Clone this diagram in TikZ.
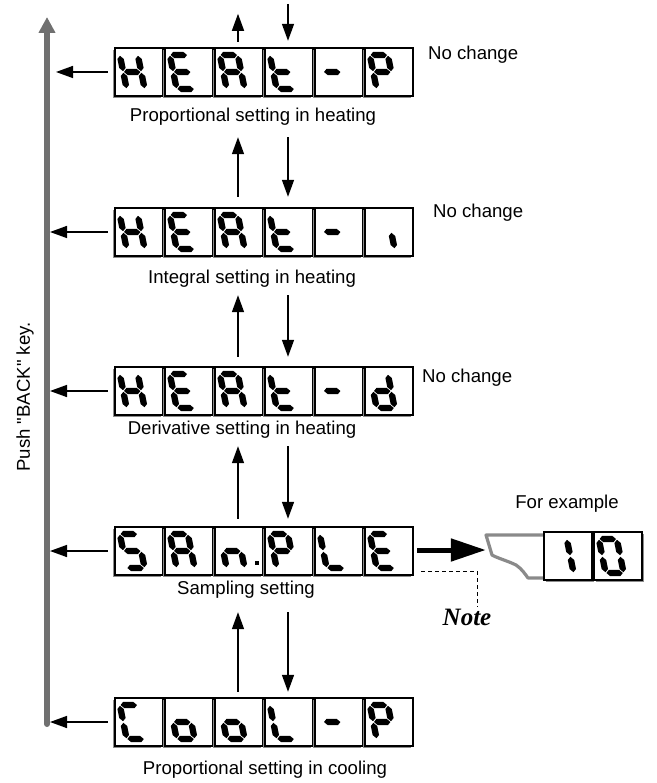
\documentclass[tikz,border=0pt]{standalone}
\usepackage{fontspec}
\setmainfont{Liberation Sans}[Ligatures=TeXOff]
\newfontfamily\notefont{Liberation Serif}
\usetikzlibrary{arrows.meta,calc}

\definecolor{bargray}{HTML}{707070}
\definecolor{shadowgray}{HTML}{8C8C8C}
\definecolor{cutgray}{HTML}{8A8A8A}

% seven-segment pieces (local coords, y up)
\newcommand\hseg[3]{\fill (#1+0.8,#3) -- (#1+4,#3+3.2) -- (#2-4,#3+3.2) -- (#2-0.8,#3) -- (#2-4,#3-3.2) -- (#1+4,#3-3.2) -- cycle;}
\newcommand\vseg[3]{\fill (#1,#2+0.8) -- (#1+3.2,#2+4) -- (#1+3.2,#3-4) -- (#1,#3-0.8) -- (#1-3.2,#3-4) -- (#1-3.2,#2+4) -- cycle;}
\newcommand\segA{\hseg{0}{18}{34}}
\newcommand\segB{\vseg{18}{17}{34}}
\newcommand\segC{\vseg{18}{0}{17}}
\newcommand\segD{\hseg{0}{18}{0}}
\newcommand\segE{\vseg{0}{0}{17}}
\newcommand\segF{\vseg{0}{17}{34}}
\newcommand\segG{\hseg{0}{18}{17}}
\newcommand\sgH{\segB\segC\segE\segF\segG}
\newcommand\sgE{\segA\segD\segE\segF\segG}
\newcommand\sgA{\segA\segB\segC\segE\segF\segG}
\newcommand\sgt{\segD\segE\segF\segG}
\newcommand\sgdash{\segG}
\newcommand\sgP{\segA\segB\segE\segF\segG}
\newcommand\sgi{\segC}
\newcommand\sgd{\segB\segC\segD\segE\segG}
\newcommand\sgS{\segA\segF\segG\segC\segD}
\newcommand\sgn{\segC\segE\segG}
\newcommand\sgL{\segD\segE\segF}
\newcommand\sgC{\segA\segD\segE\segF}
\newcommand\sgo{\segC\segD\segE\segG}
\newcommand\sgone{\segB\segC}
\newcommand\sgzero{\segA\segB\segC\segD\segE\segF}

% one digit box: x, y (top-left), shadow dx, glyph
\newcommand\dbox[4]{%
  \fill[shadowgray] (#1+#3,#2+2) rectangle ++(48,48);
  \draw[boxline] (#1,#2) rectangle ++(48,48);
  \begin{scope}[shift={(#1,#2+48)},yscale=-1]
    \begin{scope}[shift={(11.6,7)},xslant=0.2]#4\end{scope}
  \end{scope}}
\newcommand\disprow[7]{%
  \dbox{115}{#1}{-2}{#2}\dbox{165}{#1}{-2}{#3}\dbox{215}{#1}{-2}{#4}%
  \dbox{265}{#1}{-2}{#5}\dbox{315}{#1}{-2}{#6}\dbox{365}{#1}{-2}{#7}}

\begin{document}
\begin{tikzpicture}[x=1pt,y=-1pt,
  lbl/.style={font=\fontsize{18.6}{22}\selectfont, inner sep=0pt},
  disp/.style={minimum width=298pt, minimum height=48pt, inner sep=0pt, draw=none},
  arr/.style={line width=1.5pt, -{Triangle[length=17pt,width=12pt]}},
  boxline/.style={draw=black, line width=1.3pt, fill=white},
  bararrow/.style={draw=bargray, line width=6pt, line cap=round, -{Triangle[length=16pt,width=16pt]}},
  thickarrow/.style={line width=5pt, -{Triangle[length=35pt,width=22pt]}},
  dashline/.style={line width=0.9pt, dash pattern=on 4pt off 3pt},
  cutline/.style={draw=cutgray, line width=3.2pt, line join=round}]
\useasboundingbox (0,0) rectangle (656,783);

% displays
\disprow{48}{\sgH}{\sgE}{\sgA}{\sgt}{\sgdash}{\sgP}
\disprow{208}{\sgH}{\sgE}{\sgA}{\sgt}{\sgdash}{\sgi}
\disprow{367}{\sgH}{\sgE}{\sgA}{\sgt}{\sgdash}{\sgd}
\disprow{527}{\sgS}{\sgA}{\sgn}{\sgP}{\sgL}{\sgE}
\fill (255,561) rectangle ++(4,4);
\disprow{698}{\sgC}{\sgo}{\sgo}{\sgL}{\sgdash}{\sgP}

\node[disp] (d1) at (264,72) {};
\node[disp] (d2) at (264,232) {};
\node[disp] (d3) at (264,391) {};
\node[disp] (d4) at (264,551) {};
\node[disp] (d5) at (264,722) {};

% captions
\node[lbl] (c1) at (253,117) {Proportional setting in heating};
\node[lbl] (c2) at (252,279) {Integral setting in heating};
\node[lbl] (c3) at (242,430) {Derivative setting in heating};
\node[lbl] (c4) at (246,590) {Sampling setting};
\node[lbl] (c5) at (265,770) {Proportional setting in cooling};
\node[lbl, anchor=west] (n1) at (428,55) {No change};
\node[lbl, anchor=west] (n2) at (433,213) {No change};
\node[lbl, anchor=west] (n3) at (422,378) {No change};
\node[lbl, rotate=90] (push) at (25,397) {Push "BACK" key.};

% back bar
\coordinate (bartip) at (47,17);
\coordinate (barbot) at (47,724);
\draw[bararrow] (barbot) -- (bartip);
\coordinate (barR) at (50,0);
\coordinate (topR) at (56,0);
\draw[arr] ($(d1.west)+(-7,0)$) -- (d1.west -| topR);
\draw[arr] ($(d2.west)+(-7,0)$) -- (d2.west -| barR);
\draw[arr] ($(d3.west)+(-7,0)$) -- (d3.west -| barR);
\draw[arr] ($(d4.west)+(-7,0)$) -- (d4.west -| barR);
\draw[arr] ($(d5.west)+(-7,0)$) -- (d5.west -| barR);

% vertical arrows
\coordinate (upx) at (238,0);
\coordinate (dnx) at (288,0);
\draw[arr] ($(d1.north -| upx)+(0,-6)$) -- ($(d1.north -| upx)+(0,-34)$);
\draw[arr] ($(d1.north -| dnx)+(0,-44)$) -- ($(d1.north -| dnx)+(0,-7)$);
\draw[arr] ($(d2.north -| upx)+(0,-11)$) -- ($(d1.south -| upx)+(0,41)$);
\draw[arr] ($(d1.south -| dnx)+(0,41)$) -- ($(d2.north -| dnx)+(0,-11)$);
\draw[arr] ($(d3.north -| upx)+(0,-10)$) -- ($(d2.south -| upx)+(0,39)$);
\draw[arr] ($(d2.south -| dnx)+(0,39)$) -- ($(d3.north -| dnx)+(0,-10)$);
\draw[arr] ($(d4.north -| upx)+(0,-8)$) -- ($(d3.south -| upx)+(0,31)$);
\draw[arr] ($(d3.south -| dnx)+(0,31)$) -- ($(d4.north -| dnx)+(0,-8)$);
\draw[arr] ($(d5.north -| upx)+(0,-6)$) -- ($(d4.south -| upx)+(0,37)$);
\draw[arr] ($(d4.south -| dnx)+(0,37)$) -- ($(d5.north -| dnx)+(0,-6)$);

% example display
\draw[cutline] (544,535) -- (486,535) -- (492,555) .. controls (497,558) and (508,561) .. (516,565)
  .. controls (522,569) and (525,574) .. (528,578) -- (544,578);
\dbox{544}{532}{2}{\sgone}
\dbox{594}{532}{2}{\sgzero}
\node[disp, minimum width=157pt] (ex) at (563.5,556) {};
\node[lbl] (forex) at (567,504) {For example};
\draw[thickarrow] ($(d4.east)+(4,-1)$) -- ($(d4.east -| ex.west)+(1,-1)$);

% note
\node[inner sep=0pt, anchor=north, font=\notefont\bfseries\itshape\fontsize{25}{28}\selectfont] (note) at (467,609) {Note};
\draw[dashline] ($(d4.south east)+(8,-4)$) -| ($(note.north)+(10,-2)$);
\end{tikzpicture}
\end{document}
